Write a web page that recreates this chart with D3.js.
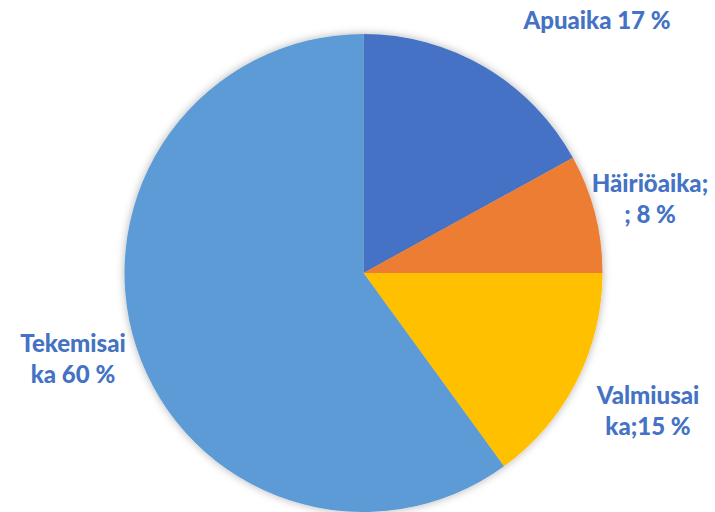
<!DOCTYPE html>
<html>
<head>
<meta charset="utf-8">
<script src="https://cdn.jsdelivr.net/npm/d3@7"></script>
<style>
  body { margin: 0; background: #fff; }
  text { font-family: Lato, "Open Sans", sans-serif; font-weight: bold; }
</style>
</head>
<body>
<svg width="715" height="512"></svg>
<script>
var categories = ["Apuaika", "Häiriöaika", "Valmiusaika", "Tekemisaika"];
var values = [17, 8, 15, 60];
var colors = ["#4472C4", "#ED7D31", "#FFC000", "#5B9BD5"];
// label lines as shown in the chart (wrapped)
var labelLines = [
    ["Apuaika 17 %"],
    ["Häiriöaika;", "; 8 %"],
    ["Valmiusai", "ka;15 %"],
    ["Tekemisai", "ka 60 %"]
];
var labelPos = [[597, 29], [650, 192], [648, 404], [73, 352]];

var svg = d3.select("svg");
var width = +svg.attr("width");
var height = +svg.attr("height");

var cx = 363.5, cy = 273, radius = 239;

var defs = svg.append("defs");
var filter = defs.append("filter")
    .attr("id", "shadow")
    .attr("x", "-20%").attr("y", "-20%")
    .attr("width", "140%").attr("height", "140%");
filter.append("feDropShadow")
    .attr("dx", 0).attr("dy", 0)
    .attr("stdDeviation", 4)
    .attr("flood-color", "#000")
    .attr("flood-opacity", 0.3);

var pie = d3.pie().sort(null).value(function(d) { return d; });
var arc = d3.arc().innerRadius(0).outerRadius(radius);

var g = svg.append("g")
    .attr("transform", "translate(" + cx + ", " + cy + ")")
    .attr("filter", "url(#shadow)");

g.selectAll("path")
    .data(pie(values))
    .enter()
    .append("path")
    .attr("d", arc)
    .attr("fill", function(d, i) { return colors[i]; });

// LABELS
svg.selectAll(".label")
    .data(categories)
    .enter()
    .append("text")
    .attr("class", "label")
    .attr("text-anchor", "middle")
    .attr("font-size", 24)
    .attr("fill", "#4472C4")
    .style("font-weight", 900)
    .attr("transform", function(d, i) { return "translate(" + labelPos[i][0] + ", " + labelPos[i][1] + ")"; })
    .each(function(d, i) {
        var t = d3.select(this);
        labelLines[i].forEach(function(line, j) {
            t.append("tspan")
                .attr("x", 0)
                .attr("y", j * 31)
                .text(line);
        });
    });
</script>
</body>
</html>
